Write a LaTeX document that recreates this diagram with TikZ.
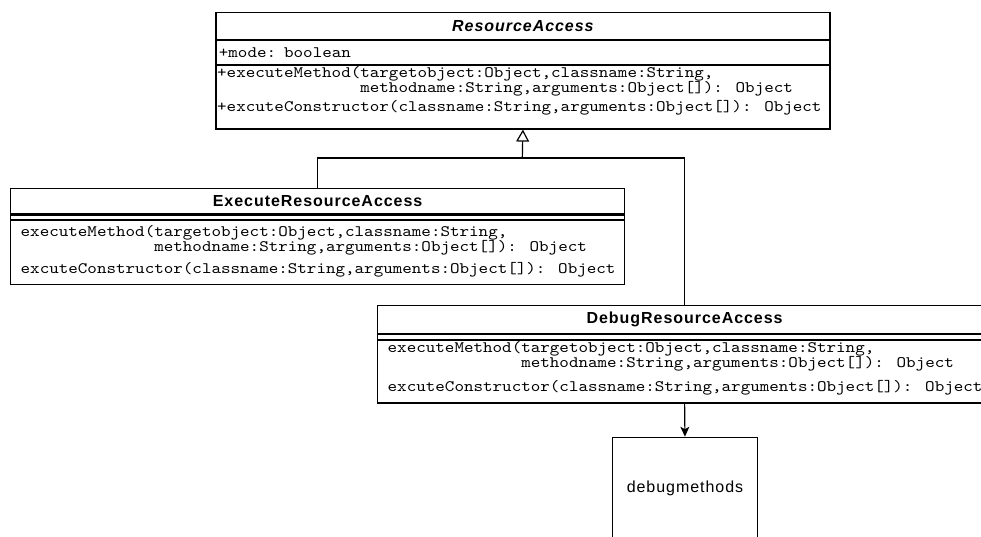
\documentclass[tikz,border=0pt]{standalone}
\usepackage{fontspec}
\setmainfont{Liberation Sans}
\newfontfamily\umlsans[LetterSpace=6]{Liberation Sans}
\newfontfamily\umlmono[FakeStretch=1.136]{lmmono10-regular.otf}
\usetikzlibrary{arrows.meta,positioning}
\newcommand\tightlines{\setlength{\lineskiplimit}{-10pt}}

\tikzset{
  compart/.style={draw, line width=1.2pt, minimum width=614pt, inner sep=0pt, anchor=north west},
  titlebox/.style={compart, font=\umlsans\bfseries\fontsize{16}{16}\selectfont},
  attrbox/.style={compart, inner xsep=3pt, text width=608pt, align=left, font=\umlmono\fontsize{16}{14}\selectfont},
  optext/.style={anchor=north west, inner sep=0pt, align=left,
    font=\umlmono\fontsize{16}{15}\selectfont\tightlines},
  link/.style={line width=1.2pt},
}

\begin{document}
\begin{tikzpicture}[x=1pt,y=-1pt]
\useasboundingbox (0,0) rectangle (981,536);
% ResourceAccess
\node[titlebox, minimum height=27.3pt] (ra) at (215.3,11.7) {\itshape ResourceAccess};
\node[attrbox, minimum height=23.7pt] (ra attr) at (ra.south west) {+mode: boolean};
\node[compart, minimum height=63.3pt] (ra ops) at (ra attr.south west) {};
\node[optext] (ra optext) at (217,66) {+executeMethod(targetobject:Object,classname:String,\\
\phantom{+executeMethod(}methodname:String,arguments:Object[]): Object\\[4pt]
+excuteConstructor(classname:String,arguments:Object[]): Object};
% ExecuteResourceAccess
\node[titlebox, minimum height=25.3pt] (exe) at (10,188) {ExecuteResourceAccess};
\node[compart, minimum height=4pt] (exe attr) at (exe.south west) {};
\node[compart, minimum height=64.4pt] (exe ops) at (exe attr.south west) {};
\node[optext] (exe optext) at (20.5,225) {executeMethod(targetobject:Object,classname:String,\\
\phantom{executeMethod(}methodname:String,arguments:Object[]): Object\\[7.6pt]
excuteConstructor(classname:String,arguments:Object[]): Object};
% DebugResourceAccess
\node[titlebox, minimum height=27.7pt] (dbg) at (377,305) {DebugResourceAccess};
\node[compart, minimum height=4.6pt] (dbg attr) at (dbg.south west) {};
\node[compart, minimum height=62.7pt] (dbg ops) at (dbg attr.south west) {};
\node[optext] (dbg optext) at (387.5,341.5) {executeMethod(targetobject:Object,classname:String,\\
\phantom{executeMethod(}methodname:String,arguments:Object[]): Object\\[8.6pt]
excuteConstructor(classname:String,arguments:Object[]): Object};
% debugmethods
\node[draw, line width=1.2pt, anchor=north west, minimum width=145.3pt, minimum height=103pt,
  font=\umlsans\fontsize{16}{16}\selectfont] (dm) at (611.7,436.7) {debugmethods};
% links
\coordinate (jn) at (522.3,158);
\draw[link] (exe.north) |- (jn) -| (dbg.north);
\draw[link, -{Triangle[open, length=12pt, width=13pt, line width=1.2pt]}] (jn) -- (ra ops.south);
\draw[link, -{Stealth[length=10pt, width=9pt, inset=2.5pt]}] (dbg ops.south) -- (dm.north);
\end{tikzpicture}
\end{document}
